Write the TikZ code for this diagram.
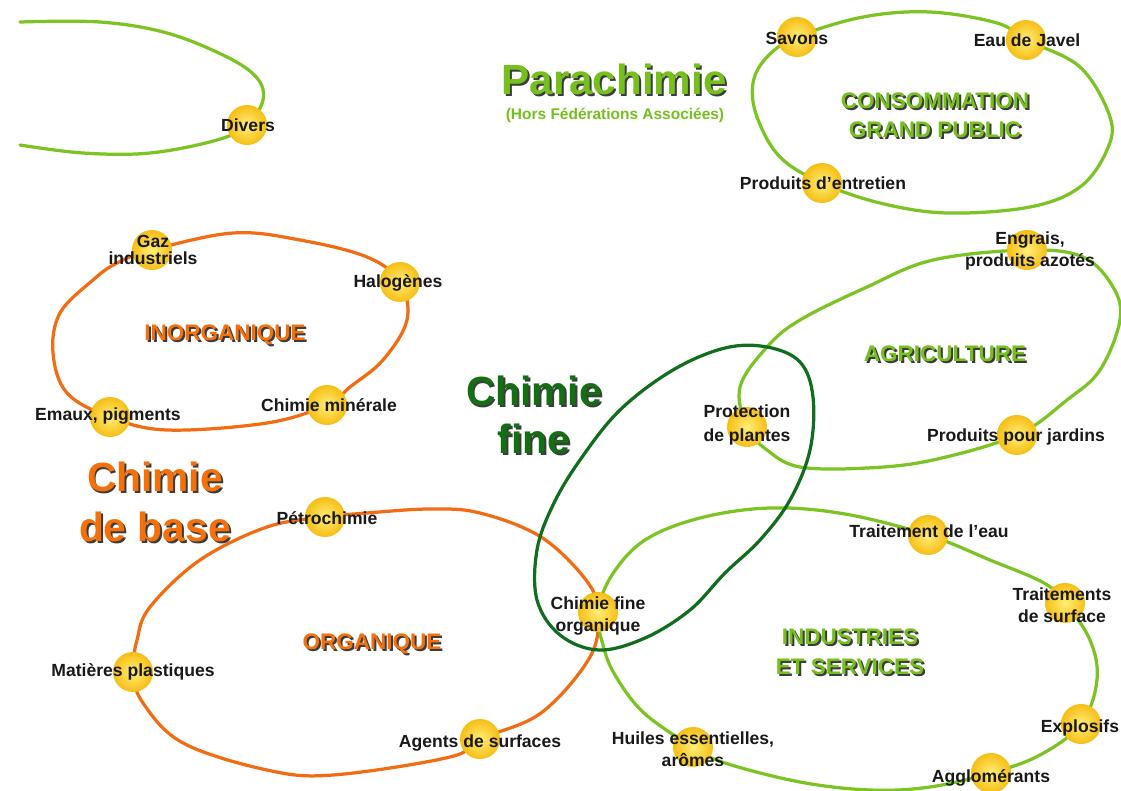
\documentclass[tikz,border=0pt]{standalone}
\usepackage{fontspec}
\setmainfont{Liberation Sans}
\definecolor{lgline}{RGB}{124,196,36}
\definecolor{orline}{RGB}{242,108,20}
\definecolor{dgline}{RGB}{16,110,30}
\definecolor{lgtxt}{RGB}{118,192,30}
\definecolor{ortxt}{RGB}{245,112,10}
\definecolor{dgtxt}{RGB}{20,110,20}
\definecolor{ballin}{RGB}{255,238,120}
\definecolor{ballout}{RGB}{246,190,20}
\definecolor{labeltxt}{RGB}{25,25,25}
\definecolor{shadowc}{RGB}{60,60,60}
\newcommand\shtxt[2]{\rlap{\textcolor{shadowc}{\kern1.4pt\raisebox{-1.4pt}{#2}}}\textcolor{#1}{#2}}
\begin{document}
\begin{tikzpicture}[x=0.025cm,y=-0.025cm,
  loopline/.style={line width=2.3pt, line cap=round, line join=round},
  lg/.style={loopline, draw=lgline},
  og/.style={loopline, draw=orline},
  dg/.style={loopline, draw=dgline},
  ball/.style={circle, minimum size=1cm, inner sep=0pt, inner color=ballin, outer color=ballout},
  lbl/.style={font=\fontsize{12.5}{15.5}\selectfont\bfseries, text=labeltxt, align=center, inner sep=0pt},
  cat/.style={font=\fontsize{16}{20.5}\selectfont\bfseries, align=center, inner sep=0pt},
  big/.style={font=\fontsize{29}{35}\selectfont\bfseries, align=center, inner sep=0pt},
]
\fill[white] (0,0) rectangle (1121,791);
\useasboundingbox (0,0) rectangle (1121,791);

% ball positions
\coordinate (divers) at (247,125);
\coordinate (savons) at (797,37);
\coordinate (javel) at (1026,40);
\coordinate (entretien) at (822,183);
\coordinate (gaz) at (152,250);
\coordinate (halog) at (400,282);
\coordinate (minerale) at (327,405);
\coordinate (emaux) at (110,417);
\coordinate (petro) at (325,517);
\coordinate (plast) at (133,672);
\coordinate (agents) at (480,739);
\coordinate (cfo) at (598,612);
\coordinate (protect) at (747,427);
\coordinate (engrais) at (1027,250);
\coordinate (jardins) at (1017,435);
\coordinate (eau) at (928,535);
\coordinate (surface) at (1065,603);
\coordinate (explosifs) at (1081,724);
\coordinate (agglo) at (991,773);
\coordinate (huiles) at (693,747);

% loops
\draw[lg] plot[smooth, tension=0.6] coordinates {(20,22) (100,22) (167,33) (227,57) (257,78) (263,100) (divers) (217,140) (150,153) (83,153) (20,145)};
\draw[lg] plot[smooth cycle, tension=0.6] coordinates {(savons) (863,17) (930,12) (997,23) (javel) (1080,67) (1110,117) (1107,150) (1080,187) (1030,207) (947,213) (880,203) (entretien) (780,157) (757,117) (753,83) (767,57)};
\draw[og] plot[smooth cycle, tension=0.6] coordinates {(gaz) (233,233) (300,240) (367,257) (halog) (407,320) (383,360) (350,387) (minerale) (267,423) (167,430) (emaux) (67,393) (53,353) (60,313) (93,280) (117,263)};
\draw[og] plot[smooth cycle, tension=0.6] coordinates {(petro) (367,513) (430,509) (480,513) (541,537) (586,580) (cfo) (590,657) (541,713) (agents) (450,757) (333,775) (267,770) (183,743) (143,703) (plast) (137,640) (150,607) (200,560) (267,527)};
\draw[lg] plot[smooth cycle, tension=0.6] coordinates {(protect) (740,387) (767,347) (800,320) (867,287) (933,260) (engrais) (1083,257) (1113,287) (1120,320) (1100,370) (1067,400) (jardins) (933,460) (867,468) (800,467) (767,450)};
\draw[lg] plot[smooth cycle, tension=0.6] coordinates {(cfo) (612,575) (645,540) (700,518) (770,508) (845,514) (eau) (990,560) (1044,583) (surface) (1090,640) (1097,680) (explosifs) (1040,755) (agglo) (930,787) (870,790) (800,782) (725,763) (huiles) (644,713) (615,675) (603,645)};
\draw[dg] plot[smooth cycle, tension=0.6] coordinates {(599,650) (560,635) (537,600) (537,550) (553,505) (580,460) (620,410) (673,370) (725,348) (767,347) (800,362) (813,397) (810,450) (790,500) (760,540) (725,573) (690,610) (645,638)};

% balls
\foreach \b in {divers,savons,javel,entretien,gaz,halog,minerale,emaux,petro,plast,agents,cfo,protect,engrais,jardins,eau,surface,explosifs,agglo,huiles}
  \node[ball] (\b-ball) at (\b) {};

% item labels
\node[lbl] (l-divers) at (248,125) {Divers};
\node[lbl] (l-savons) at (797,38) {Savons};
\node[lbl] (l-javel) at (1027,40) {Eau de Javel};
\node[lbl] (l-entretien) at (823,183) {Produits d'entretien};
\node[lbl, font=\fontsize{12.5}{12.5}\selectfont\bfseries] (l-gaz) at (153,250) {Gaz\\industriels};
\node[lbl] (l-halog) at (398,283) {Halogènes};
\node[lbl] (l-minerale) at (329,405) {Chimie minérale};
\node[lbl] (l-emaux) at (108,416) {Emaux, pigments};
\node[lbl] (l-petro) at (327,518) {Pétrochimie};
\node[lbl] (l-plast) at (133,672) {Matières plastiques};
\node[lbl] (l-agents) at (480,743) {Agents de surfaces};
\node[lbl] (l-cfo) at (598,616) {Chimie fine\\organique};
\node[lbl, font=\fontsize{12.5}{17}\selectfont\bfseries] (l-protect) at (747,425) {Protection\\de plantes};
\node[lbl] (l-engrais) at (1030,251) {Engrais,\\produits azotés};
\node[lbl] (l-jardins) at (1016,437) {Produits pour jardins};
\node[lbl] (l-eau) at (929,531) {Traitement de l'eau};
\node[lbl] (l-surface) at (1062,605) {Traitements\\de surface};
\node[lbl] (l-explosifs) at (1080,728) {Explosifs};
\node[lbl] (l-agglo) at (991,778) {Agglomérants};
\node[lbl] (l-huiles) at (693,749) {Huiles essentielles,\\arômes};

% category labels
\node[cat] (c-conso) at (935,116) {\shtxt{lgtxt}{CONSOMMATION}\\\shtxt{lgtxt}{GRAND PUBLIC}};
\node[cat] (c-inorg) at (225,336) {\shtxt{ortxt}{INORGANIQUE}};
\node[cat] (c-org) at (372,645) {\shtxt{ortxt}{ORGANIQUE}};
\node[cat] (c-agri) at (945,355) {\shtxt{lgtxt}{AGRICULTURE}};
\node[cat, font=\fontsize{16}{21.5}\selectfont\bfseries] (c-indus) at (850,653) {\shtxt{lgtxt}{INDUSTRIES}\\\shtxt{lgtxt}{ET SERVICES}};

% big titles
\node[big, font=\fontsize{30}{35}\selectfont\bfseries] (t-para) at (614,80) {\shtxt{lgtxt}{Parachimie}};
\node[inner sep=0pt, font=\fontsize{11}{13}\selectfont\bfseries, text=lgtxt] (t-hors) at (615,115) {(Hors Fédérations Associées)};
\node[big] (t-base) at (155,503) {\shtxt{ortxt}{Chimie}\\\shtxt{ortxt}{de base}};
\node[big, font=\fontsize{29}{34}\selectfont\bfseries] (t-fine) at (534,416) {\shtxt{dgtxt}{Chimie}\\\shtxt{dgtxt}{fine}};
\end{tikzpicture}
\end{document}
